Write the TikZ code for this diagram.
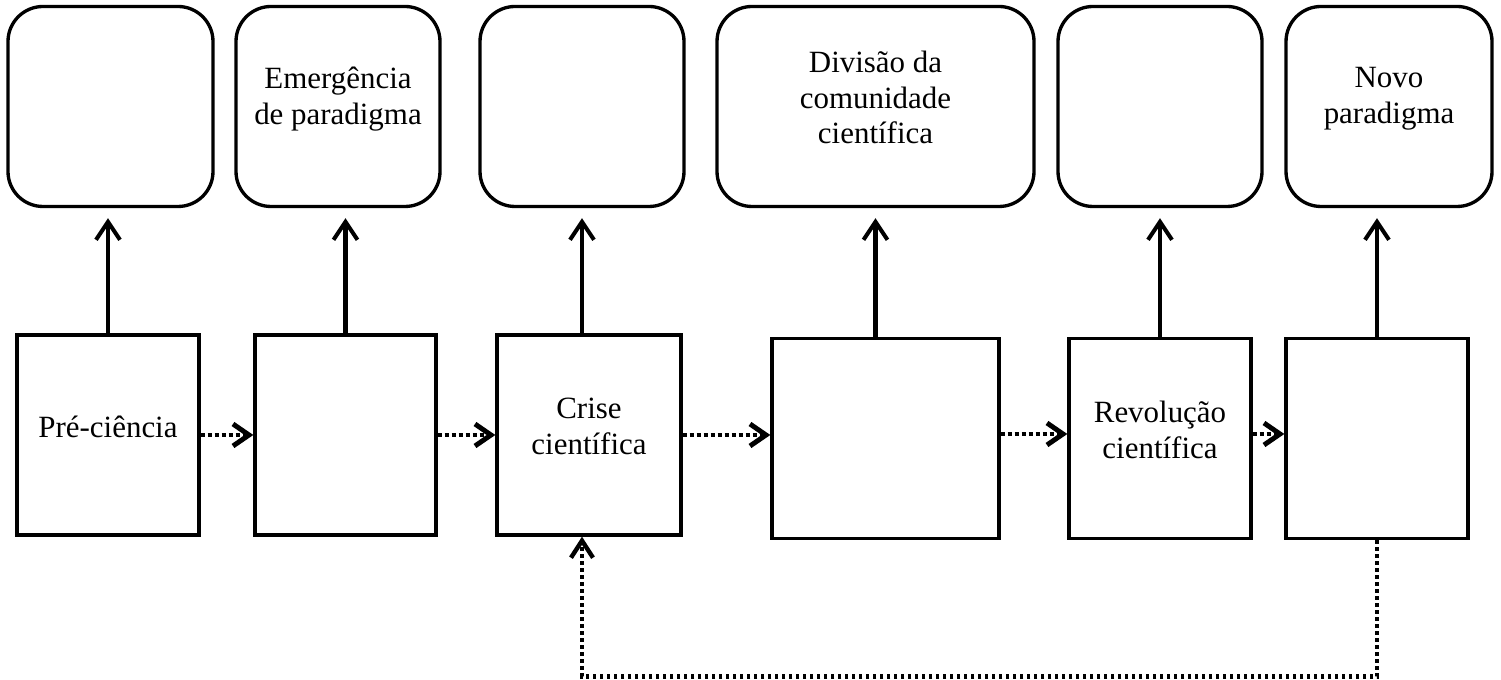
\documentclass[tikz,border=0pt]{standalone}
\usepackage{fontspec}
\setmainfont{Liberation Serif}
\usetikzlibrary{arrows.meta}

\tikzset{
  phase/.style={draw, line width=1.9pt, rounded corners=0.7cm, minimum height=4cm, minimum width=4.08cm},
  stage/.style={draw, line width=1.9pt, minimum height=4cm, minimum width=3.64cm},
  lbl/.style={align=center, font=\fontsize{17.6}{20.4}\selectfont},
  up/.style={-{Straight Barb[length=0.36cm,width=0.48cm]}, line width=2.3pt, shorten >=0.2cm},
  next/.style={-{Straight Barb[length=0.32cm,width=0.44cm]}, line width=2.8pt, dash pattern=on 0.08cm off 0.06cm},
  back/.style={-{Straight Barb[length=0.34cm,width=0.44cm]}, line width=2.5pt, dash pattern=on 0.07cm off 0.07cm}
}

\begin{document}
\begin{tikzpicture}
    \useasboundingbox (0,0) rectangle (30.02,13.6);
    % Upper boxes
    \node[phase, minimum width=4.1cm] (t1) at (2.21,11.47) {};
    \node[phase] (t2) at (6.76,11.47) {};
    \node[phase] (t3) at (11.64,11.47) {};
    \node[phase, minimum width=6.34cm] (t4) at (17.51,11.47) {};
    \node[phase] (t5) at (23.2,11.47) {};
    \node[phase, minimum width=4.12cm] (t6) at (27.78,11.47) {};
    \node[lbl] (t2t) at ([yshift=0.15cm]t2.center) {Emergência\\de paradigma};
    \node[lbl] (t4t) at ([yshift=0.18cm]t4.center) {Divisão da\\comunidade\\científica};
    \node[lbl] (t6t) at ([yshift=0.15cm]t6.center) {Novo\\paradigma};
    % Lower boxes
    \node[stage] (b1) at (2.16,4.9) {};
    \node[stage, minimum width=3.62cm] (b2) at (6.91,4.9) {};
    \node[stage, minimum width=3.68cm] (b3) at (11.78,4.9) {};
    \node[stage, minimum width=4.54cm] (b4) at (17.71,4.83) {};
    \node[stage] (b5) at (23.2,4.83) {};
    \node[stage] (b6) at (27.54,4.83) {};
    \node[lbl] (b1t) at ([yshift=0.17cm]b1.center) {Pré-ciência};
    \node[lbl] (b3t) at ([yshift=0.17cm]b3.center) {Crise\\científica};
    \node[lbl] (b5t) at ([yshift=0.17cm]b5.center) {Revolução\\científica};
    % Upward arrows
    \draw[up] (b1.north) -- (b1.north |- t1.south);
    \draw[up] (b2.north) -- (b2.north |- t2.south);
    \draw[up] (b3.north -| t3.south) -- (t3.south);
    \draw[up] (b4.north -| t4.south) -- (t4.south);
    \draw[up] (b5.north) -- (b5.north |- t5.south);
    \draw[up] (b6.north) -- (b6.north |- t6.south);
    % Dotted sequence
    \draw[next] (b1.east) -- (b2.west);
    \draw[next] (b2.east) -- (b3.west);
    \draw[next] (b3.east) -- (b3.east -| b4.west);
    \draw[next] ([yshift=0.09cm]b4.east) -- ([yshift=0.09cm]b5.west);
    \draw[next] ([yshift=0.09cm]b5.east) -- ([yshift=0.09cm]b6.west);
    % Return loop
    \coordinate (floor) at (0,0.07);
    \coordinate (crisein) at ([xshift=-0.14cm]b3.south);
    \draw[back] (b6.south) -- (b6.south |- floor) -| (crisein);
\end{tikzpicture}
\end{document}
